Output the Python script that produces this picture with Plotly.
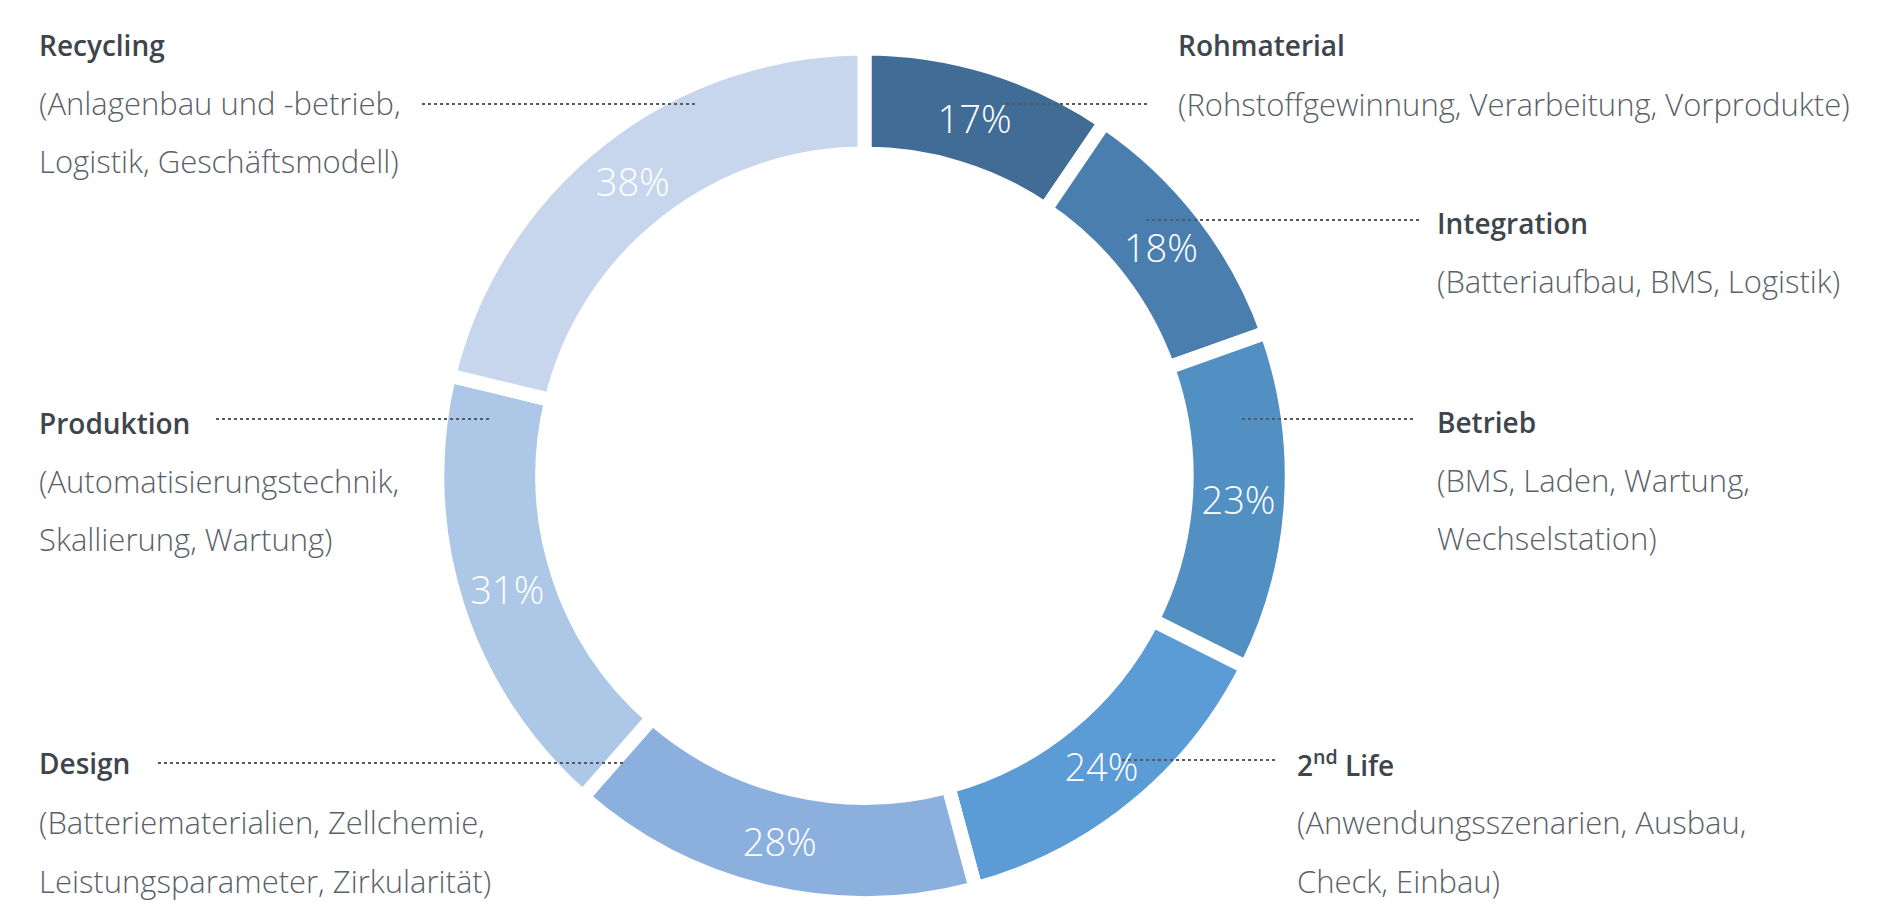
import plotly.graph_objects as go

# ---------------- data ----------------
categories = ["Rohmaterial", "Integration", "Betrieb", "2<sup>nd</sup> Life",
              "Design", "Produktion", "Recycling"]
values = [17, 18, 23, 24, 28, 31, 38]
colors = ["#416c96", "#4a7eae", "#5290c3", "#5b9bd6", "#8cb0de", "#adc7e6", "#c7d6ec"]
descriptions = [
    ["(Rohstoffgewinnung, Verarbeitung, Vorprodukte)"],
    ["(Batteriaufbau, BMS, Logistik)"],
    ["(BMS, Laden, Wartung,", "Wechselstation)"],
    ["(Anwendungsszenarien, Ausbau,", "Check, Einbau)"],
    ["(Batteriematerialien, Zellchemie,", "Leistungsparameter, Zirkularität)"],
    ["(Automatisierungstechnik,", "Skallierung, Wartung)"],
    ["(Anlagenbau und -betrieb,", "Logistik, Geschäftsmodell)"],
]

W, H = 1900, 903
FONT = "Open Sans"
TITLE_COLOR = "#3e454c"
DESC_COLOR = "#5b6168"
LEADER_COLOR = "#555a60"

def px_x(px):
    return px / W

def px_y(py):
    return 1 - py / H

# pie box (pixels)
cx, top = 864.5, 48.5
size = H - top
fig = go.Figure(go.Pie(
    labels=categories,
    values=values,
    sort=False,
    direction="clockwise",
    rotation=0,
    hole=0.754,
    marker=dict(colors=colors, line=dict(color="white", width=14)),
    texttemplate="%{value}%",
    textposition="inside",
    insidetextorientation="horizontal",
    textfont=dict(family=FONT, size=38, color="white", weight=300),
    hoverinfo="skip",
    showlegend=False,
    domain=dict(x=[px_x(cx - size / 2), px_x(cx + size / 2)], y=[0, px_y(top)]),
))

# label layout: (title x, title y, line spacing, leader x0, leader x1, leader y)
layout_pos = [
    (1176, 45, 59, 1006, 1149, 104),    # Rohmaterial (leader at desc line)
    (1435, 223, 58, 1146, 1421, 220),   # Integration
    (1435, 422, 58, 1242, 1415, 419),   # Betrieb
    (1295, 763, 59, 1122, 1276, 760),   # 2nd Life
    (37, 763, 59, 158, 626, 763),       # Design
    (37, 423, 58, 216, 491, 419),       # Produktion
    (37, 45, 58, 422, 697, 104),        # Recycling
]

annotations = []
shapes = []
for cat, desc, (tx, ty, sp, lx0, lx1, ly) in zip(categories, descriptions, layout_pos):
    annotations.append(dict(
        x=px_x(tx), y=px_y(ty), xref="paper", yref="paper",
        text=cat, showarrow=False, xanchor="left", yanchor="middle",
        font=dict(family=FONT, size=28, color=TITLE_COLOR, weight=600),
    ))
    for i, line in enumerate(desc):
        annotations.append(dict(
            x=px_x(tx), y=px_y(ty + sp * (i + 1)), xref="paper", yref="paper",
            text=line, showarrow=False, xanchor="left", yanchor="middle",
            font=dict(family=FONT, size=31, color=DESC_COLOR, weight=300),
        ))
    shapes.append(dict(
        type="line", xref="paper", yref="paper",
        x0=px_x(lx0), x1=px_x(lx1), y0=px_y(ly), y1=px_y(ly),
        line=dict(color=LEADER_COLOR, width=2, dash="dot"),
        layer="above",
    ))

fig.update_layout(
    width=W, height=H,
    margin=dict(l=0, r=0, t=0, b=0),
    paper_bgcolor="white",
    plot_bgcolor="white",
    annotations=annotations,
    shapes=shapes,
    uniformtext=dict(minsize=30, mode="show"),
)

fig.write_html("out.html", config={"displayModeBar": False},
               post_script="document.body.style.margin='0';")
